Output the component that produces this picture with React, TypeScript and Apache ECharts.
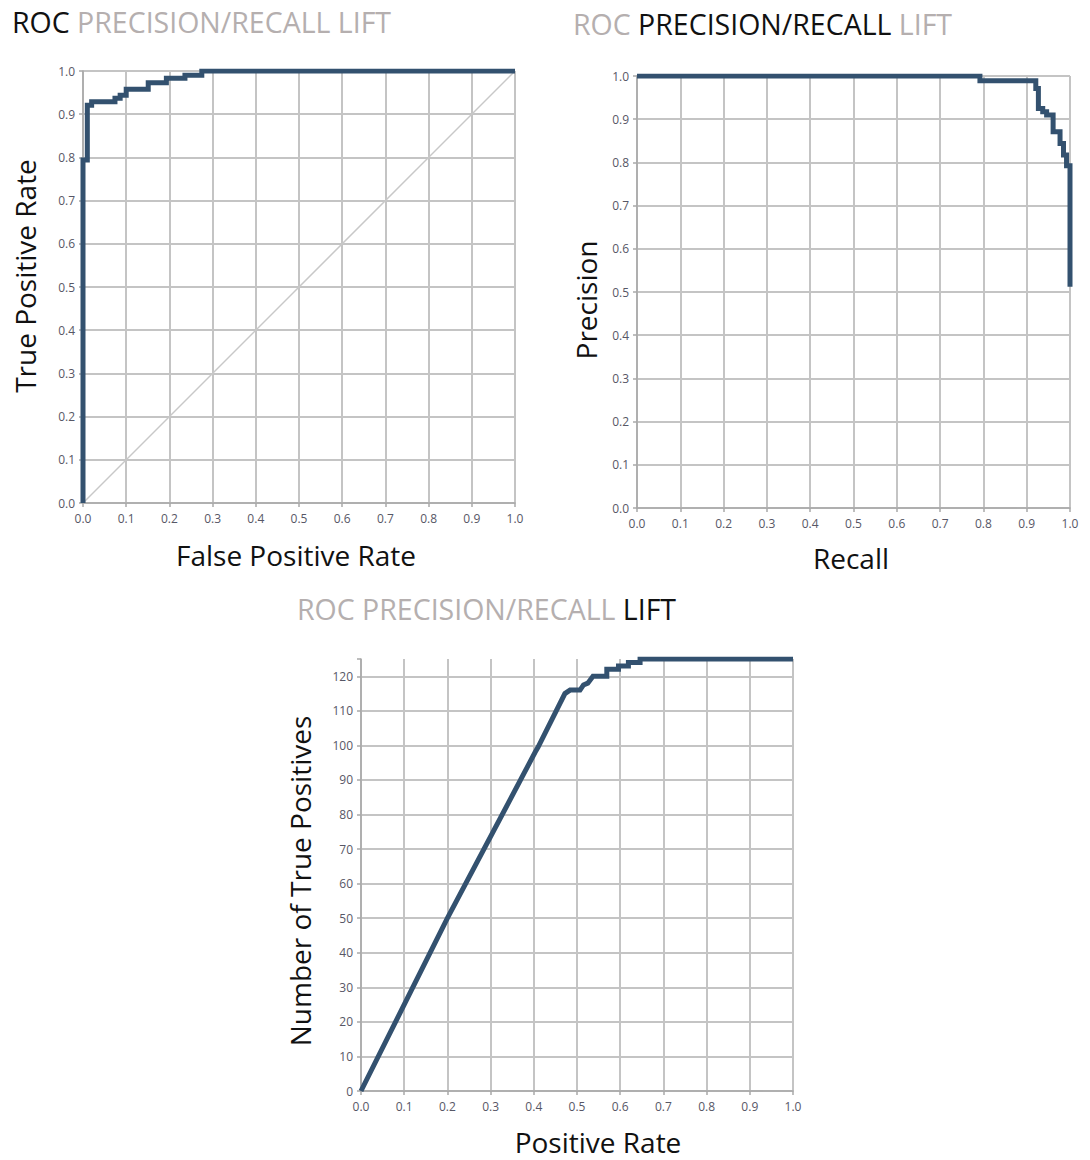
import React, { useEffect, useRef } from "react";
import * as echarts from "echarts";

// ROC curve corners (false positive rate, true positive rate)
const rocFpr = [0, 0, 0.01, 0.01, 0.02, 0.02, 0.074, 0.074, 0.086, 0.086, 0.1, 0.1, 0.151, 0.151, 0.193, 0.193, 0.236, 0.236, 0.275, 0.275, 1.0];
const rocTpr = [0, 0.794, 0.794, 0.921, 0.921, 0.929, 0.929, 0.937, 0.937, 0.944, 0.944, 0.958, 0.958, 0.973, 0.973, 0.983, 0.983, 0.99, 0.99, 1.0, 1.0];
const diagX = [0, 1];
const diagY = [0, 1];

// Precision/recall curve corners (recall, precision)
const prRecall = [0, 0.792, 0.792, 0.921, 0.921, 0.927, 0.927, 0.937, 0.937, 0.946, 0.946, 0.961, 0.961, 0.977, 0.977, 0.985, 0.985, 0.992, 0.992, 1.0, 1.0];
const prPrecision = [1.0, 1.0, 0.989, 0.989, 0.971, 0.971, 0.925, 0.925, 0.917, 0.917, 0.91, 0.91, 0.871, 0.871, 0.844, 0.844, 0.817, 0.817, 0.792, 0.792, 0.512];

// Lift curve corners (positive rate, number of true positives)
const liftRate = [0, 0.2, 0.403, 0.41, 0.472, 0.484, 0.507, 0.515, 0.525, 0.537, 0.569, 0.569, 0.596, 0.596, 0.619, 0.619, 0.646, 0.646, 1.0];
const liftTP = [0, 50, 98, 99.5, 115, 116, 116, 117.5, 118, 120, 120, 122, 122, 123, 123, 124, 124, 125, 125];

const rateTicks = ["0.0", "0.1", "0.2", "0.3", "0.4", "0.5", "0.6", "0.7", "0.8", "0.9", "1.0"];
const tpTicks = ["0", "10", "20", "30", "40", "50", "60", "70", "80", "90", "100", "110", "120"];

const titleParts = ["ROC", "PRECISION/RECALL", "LIFT"];

const LINE = "#33516f";
const GRID = "#c4c4c4";
const AXIS = "#a9a9a9";
const LABEL = "#575766";
const FONT = "'Open Sans', 'Noto Sans', sans-serif";

function zip(a: number[], b: number[]) {
  return a.map((v, i) => [v, b[i]]);
}

function valueAxis(gridIndex: number, max: number, interval: number, labels: string[], showMax: boolean, margin: number) {
  return {
    type: "value",
    gridIndex,
    min: 0,
    max,
    interval,
    axisLine: { show: true, lineStyle: { color: AXIS, width: 1.5 } },
    axisTick: { show: true, length: 4, lineStyle: { color: AXIS, width: 1.5 } },
    splitLine: { show: true, showMaxLine: showMax, lineStyle: { color: GRID, width: 2 } },
    axisLabel: {
      color: LABEL,
      fontFamily: FONT,
      fontSize: 12,
      margin,
      formatter: (v: number) => {
        const idx = Math.round(v / interval);
        return Math.abs(idx * interval - v) < 1e-6 && labels[idx] !== undefined ? labels[idx] : "";
      },
    },
  };
}

function titleText(x: number, y: number, active: number) {
  const text = titleParts
    .map((p, i) => `{${i === active ? "a" : "b"}|${p}}`)
    .join("{b| }");
  return {
    type: "text",
    x,
    y,
    style: {
      text,
      textVerticalAlign: "middle",
      rich: {
        a: { fill: "#111111", fontSize: 28.5, fontFamily: FONT },
        b: { fill: "#b5afaf", fontSize: 28.5, fontFamily: FONT },
      },
    },
  };
}

function axisTitle(x: number, y: number, text: string, rotate: boolean) {
  return {
    type: "text",
    x,
    y,
    rotation: rotate ? Math.PI / 2 : 0,
    style: {
      text,
      fill: "#111111",
      fontSize: 28,
      fontFamily: FONT,
      textAlign: "center",
      textVerticalAlign: "middle",
    },
  };
}

export default function App() {
  const ref = useRef<HTMLDivElement>(null);

  useEffect(() => {
    if (!ref.current) return;
    const chart = echarts.init(ref.current, null, { renderer: "svg" });
    const lineStyle = { color: LINE, width: 5, cap: "butt", join: "miter" };
    chart.setOption({
      animation: false,
      backgroundColor: "#ffffff",
      grid: [
        { left: 83, top: 71, width: 432, height: 432 },
        { left: 637, top: 76, width: 433, height: 432 },
        { left: 361, top: 659, width: 432, height: 432 },
      ],
      xAxis: [
        valueAxis(0, 1, 0.1, rateTicks, true, 9),
        valueAxis(1, 1, 0.1, rateTicks, true, 9),
        valueAxis(2, 1, 0.1, rateTicks, true, 9),
      ],
      yAxis: [
        valueAxis(0, 1, 0.1, rateTicks, true, 8),
        valueAxis(1, 1, 0.1, rateTicks, true, 8),
        valueAxis(2, 125, 10, tpTicks, false, 8),
      ],
      series: [
        {
          type: "line",
          xAxisIndex: 0,
          yAxisIndex: 0,
          data: zip(diagX, diagY),
          showSymbol: false,
          lineStyle: { color: "#c8c8c8", width: 1.5 },
          z: 2,
        },
        {
          type: "line",
          xAxisIndex: 0,
          yAxisIndex: 0,
          data: zip(rocFpr, rocTpr),
          showSymbol: false,
          lineStyle,
          z: 3,
        },
        {
          type: "line",
          xAxisIndex: 1,
          yAxisIndex: 1,
          data: zip(prRecall, prPrecision),
          showSymbol: false,
          lineStyle,
          z: 3,
        },
        {
          type: "line",
          xAxisIndex: 2,
          yAxisIndex: 2,
          data: zip(liftRate, liftTP),
          showSymbol: false,
          lineStyle,
          z: 3,
        },
      ],
      graphic: [
        titleText(12, 22, 0),
        titleText(573, 24, 1),
        titleText(297, 609, 2),
        axisTitle(296, 555, "False Positive Rate", false),
        axisTitle(851, 558, "Recall", false),
        axisTitle(598, 1142, "Positive Rate", false),
        axisTitle(25, 276, "True Positive Rate", true),
        axisTitle(586, 300, "Precision", true),
        axisTitle(300, 881, "Number of True Positives", true),
      ],
    });
    return () => chart.dispose();
  }, []);

  return (
    <div
      ref={ref}
      style={{ position: "absolute", left: 0, top: 0, width: 1090, height: 1160 }}
    />
  );
}
